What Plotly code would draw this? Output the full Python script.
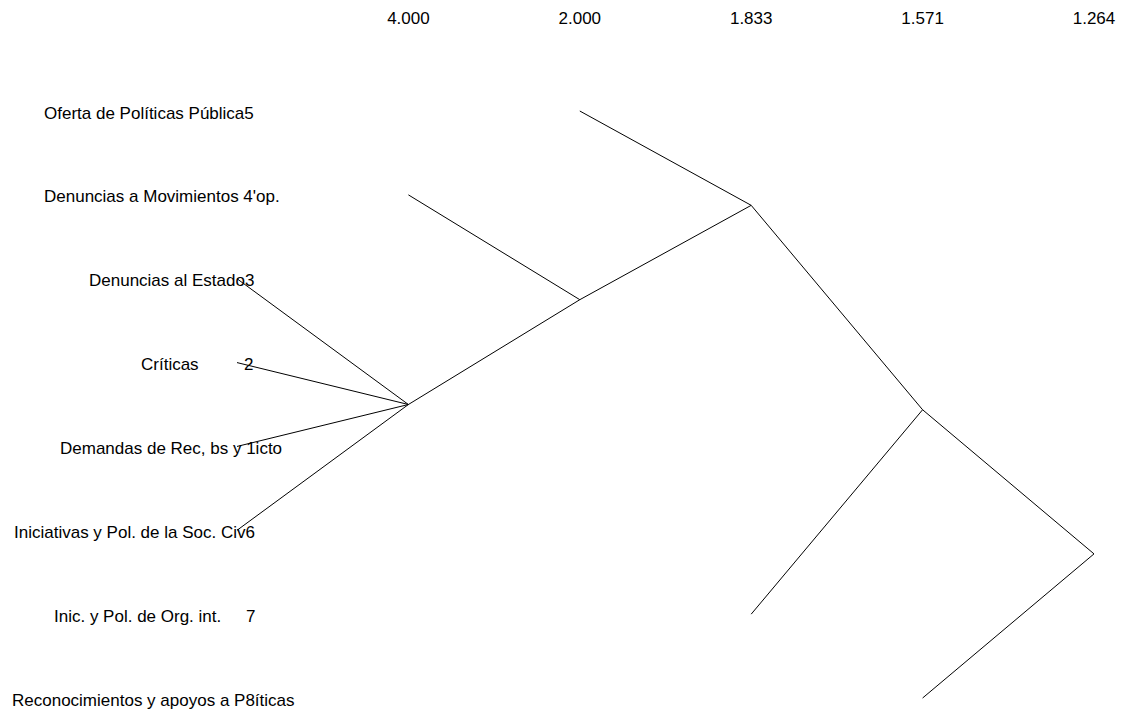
import plotly.graph_objects as go

# ---------------- data ----------------
LEAF_LABELS = [
    "Oferta de Políticas Pública5",
    "Denuncias a Movimientos 4'op.",
    "Denuncias al Estado3",
    "Críticas",
    "Demandas de Rec, bs y 1icto",
    "Iniciativas y Pol. de la Soc. Civ6",
    "Inic. y Pol. de Org. int.",
    "Reconocimientos y apoyos a P8íticas",
]
# cluster numbers drawn apart from their label (row index, number)
EXTRA_NUMBERS = [(3, "2"), (6, "7")]
# level (column of the distance scale) at which each leaf branch starts
LEAF_START_LEVEL = [2, 1, 0, 0, 0, 0, 3, 4]
# merge steps: children ("L#" = leaf row, "N#" = earlier merge) and level
MERGES = [
    (["L2", "L3", "L4", "L5"], 1),
    (["N0", "L1"], 2),
    (["N1", "L0"], 3),
    (["N2", "L6"], 4),
    (["N3", "L7"], 5),
]
LEVEL_TICKS = [1, 2, 3, 4, 5]
LEVEL_TICK_LABELS = ["4.000", "2.000", "1.833", "1.571", "1.264"]

# ---------------- layout geometry (page pixels) ----------------
PAGE_W, PAGE_H = 1124, 709
OFF = 8                       # default body margin of the page
W, H = PAGE_W - OFF, PAGE_H - OFF
X0, DX = 237.0, 171.4         # page pixel of level 0, pixels per level
Y0, DY = 111.0, 83.86         # page pixel of row 0, pixels per row
TOP = 20                      # top margin (figure pixels)

def px_to_level(px):
    return (px - X0) / DX

LABEL_RIGHT_PX = [256, 282, 256, 201, 284, 257, 223, 297]
NUMBER_CENTER_PX = {3: 248, 6: 250}
FONT = "Liberation Sans, Arial, sans-serif"
FS = 17

# ---------------- build edges ----------------
nodes = {}
for i, lv in enumerate(LEAF_START_LEVEL):
    nodes[f"L{i}"] = (lv, float(i))

xs, ys = [], []
for k, (children, level) in enumerate(MERGES):
    cy = sum(nodes[c][1] for c in children) / len(children)
    for c in children:
        x0, y0 = nodes[c]
        xs += [x0, level, None]
        ys += [y0, cy, None]
    nodes[f"N{k}"] = (level, cy)

fig = go.Figure()
fig.add_trace(go.Scatter(x=xs, y=ys, mode="lines",
                         line=dict(color="black", width=1),
                         hoverinfo="skip", showlegend=False))

for i, lab in enumerate(LEAF_LABELS):
    fig.add_annotation(x=px_to_level(LABEL_RIGHT_PX[i]), y=i, text=lab,
                       showarrow=False, xanchor="right", yanchor="middle",
                       yshift=-2, font=dict(family=FONT, size=FS, color="black"))
for row, num in EXTRA_NUMBERS:
    fig.add_annotation(x=px_to_level(NUMBER_CENTER_PX[row]), y=row, text=num,
                       showarrow=False, xanchor="center", yanchor="middle",
                       yshift=-2, font=dict(family=FONT, size=FS, color="black"))

fig.update_layout(
    width=W, height=H,
    margin=dict(l=0, r=0, t=TOP, b=0),
    plot_bgcolor="white", paper_bgcolor="white",
    xaxis=dict(range=[px_to_level(OFF), px_to_level(PAGE_W)], side="top",
               tickvals=LEVEL_TICKS, ticktext=LEVEL_TICK_LABELS,
               showgrid=False, zeroline=False, showline=False, ticks="",
               tickfont=dict(family=FONT, size=FS, color="black")),
    yaxis=dict(range=[(PAGE_H - Y0) / DY, (OFF + TOP - Y0) / DY],
               showgrid=False, zeroline=False, showline=False,
               showticklabels=False, ticks=""),
)

fig.write_html("out.html")
